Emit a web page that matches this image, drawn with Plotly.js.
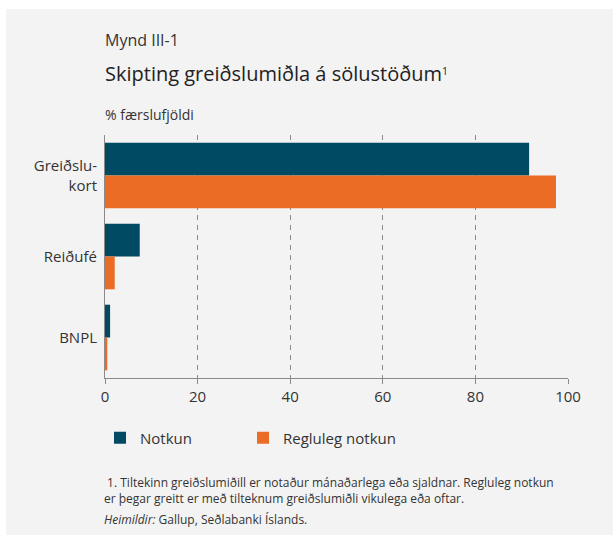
<!DOCTYPE html>
<html>
<head>
<meta charset="utf-8">
<script src="https://cdn.plot.ly/plotly-3.0.1.min.js"></script>
<style>
  html, body { margin: 0; padding: 0; background: #ffffff; }
  #panel { position: absolute; left: 6px; top: 9px; width: 607px; height: 526px; background: #f3f3f3; }
  #chart { position: absolute; left: 0; top: 0; width: 613px; height: 535px; }
</style>
</head>
<body>
<div id="panel"></div>
<div id="chart"></div>
<script>
// Data
const categories = ["Greiðslu-<br>kort", "Reiðufé", "BNPL"];
const seriesNames = ["Notkun", "Regluleg notkun"];
const notkun = [91.6, 7.5, 1.1];
const reglulegNotkun = [97.4, 2.1, 0.5];
const xTicks = [0, 20, 40, 60, 80, 100];

const FONT = "'Open Sans', 'Noto Sans', sans-serif";
const TXT = "#333333";

// plot area in px
const L = 105, R = 568, T = 135, B = 378;
const W = 613, H = 535;
const px2x = p => (p - L) / (R - L);
const py2y = p => (B - p) / (B - T);

const traces = [
  { type: "bar", orientation: "h", name: seriesNames[0], y: categories, x: notkun,
    marker: { color: "#004a63" }, legend: "legend" },
  { type: "bar", orientation: "h", name: seriesNames[1], y: categories, x: reglulegNotkun,
    marker: { color: "#eb6c24" }, legend: "legend2" }
];

const legendBase = {
  orientation: "h", yanchor: "middle", xanchor: "left", y: py2y(438),
  font: { family: FONT, size: 15, color: TXT }, bgcolor: "rgba(0,0,0,0)"
};

const layout = {
  width: W, height: H,
  margin: { l: L, r: W - R, t: T, b: H - B, pad: 0 },
  paper_bgcolor: "rgba(0,0,0,0)",
  plot_bgcolor: "rgba(0,0,0,0)",
  font: { family: FONT, color: TXT, size: 14 },
  barmode: "group",
  bargap: 0.19,
  bargroupgap: 0,
  showlegend: true,
  legend: Object.assign({}, legendBase, { x: px2x(100) }),
  legend2: Object.assign({}, legendBase, { x: px2x(243) }),
  xaxis: {
    range: [0, 100], tickvals: xTicks, ticktext: xTicks.map(String),
    showgrid: true, gridcolor: "#8a8a8a", gridwidth: 1, griddash: "5px,5px",
    zeroline: false, showline: true, linecolor: "#8a8a8a", linewidth: 1,
    ticks: "outside", ticklen: 5, tickcolor: "#8a8a8a",
    tickfont: { family: FONT, size: 15, color: TXT },
    fixedrange: true
  },
  yaxis: {
    type: "category", autorange: "reversed",
    showgrid: false, zeroline: false, showline: true, linecolor: "#8a8a8a", linewidth: 1,
    ticks: "", ticklabelstandoff: 4,
    tickfont: { family: FONT, size: 15, color: TXT },
    fixedrange: true
  },
  annotations: [
    { xref: "paper", yref: "paper", x: 0, xshift: -2, y: py2y(40), xanchor: "left", yanchor: "middle",
      text: "Mynd III-1", showarrow: false, font: { family: FONT, size: 16, color: TXT } },
    { xref: "paper", yref: "paper", x: 0, xshift: -2, y: py2y(73), xanchor: "left", yanchor: "middle",
      text: "Skipting greiðslumiðla á sölustöðum<span style=\"font-size:15px\"><sup>1</sup></span>", showarrow: false,
      font: { family: FONT, size: 20, color: "#222222" } },
    { xref: "paper", yref: "paper", x: 0, xshift: -2, y: py2y(114), xanchor: "left", yanchor: "middle",
      text: "% færslufjöldi", showarrow: false, font: { family: FONT, size: 14, color: TXT } },
    { xref: "paper", yref: "paper", x: px2x(104), xshift: -2, y: py2y(482), xanchor: "left", yanchor: "middle",
      text: " 1. Tiltekinn greiðslumiðill er notaður mánaðarlega eða sjaldnar. Regluleg notkun",
      showarrow: false, font: { family: FONT, size: 12, color: TXT } },
    { xref: "paper", yref: "paper", x: px2x(104), xshift: -2, y: py2y(498), xanchor: "left", yanchor: "middle",
      text: "er þegar greitt er með tilteknum greiðslumiðli vikulega eða oftar.",
      showarrow: false, font: { family: FONT, size: 12, color: TXT } },
    { xref: "paper", yref: "paper", x: px2x(104), xshift: -2, y: py2y(519), xanchor: "left", yanchor: "middle",
      text: "<i>Heimildir:</i> Gallup, Seðlabanki Íslands.",
      showarrow: false, font: { family: FONT, size: 12, color: TXT } }
  ]
};

Plotly.newPlot("chart", traces, layout, { displayModeBar: false, staticPlot: true });
</script>
</body>
</html>
